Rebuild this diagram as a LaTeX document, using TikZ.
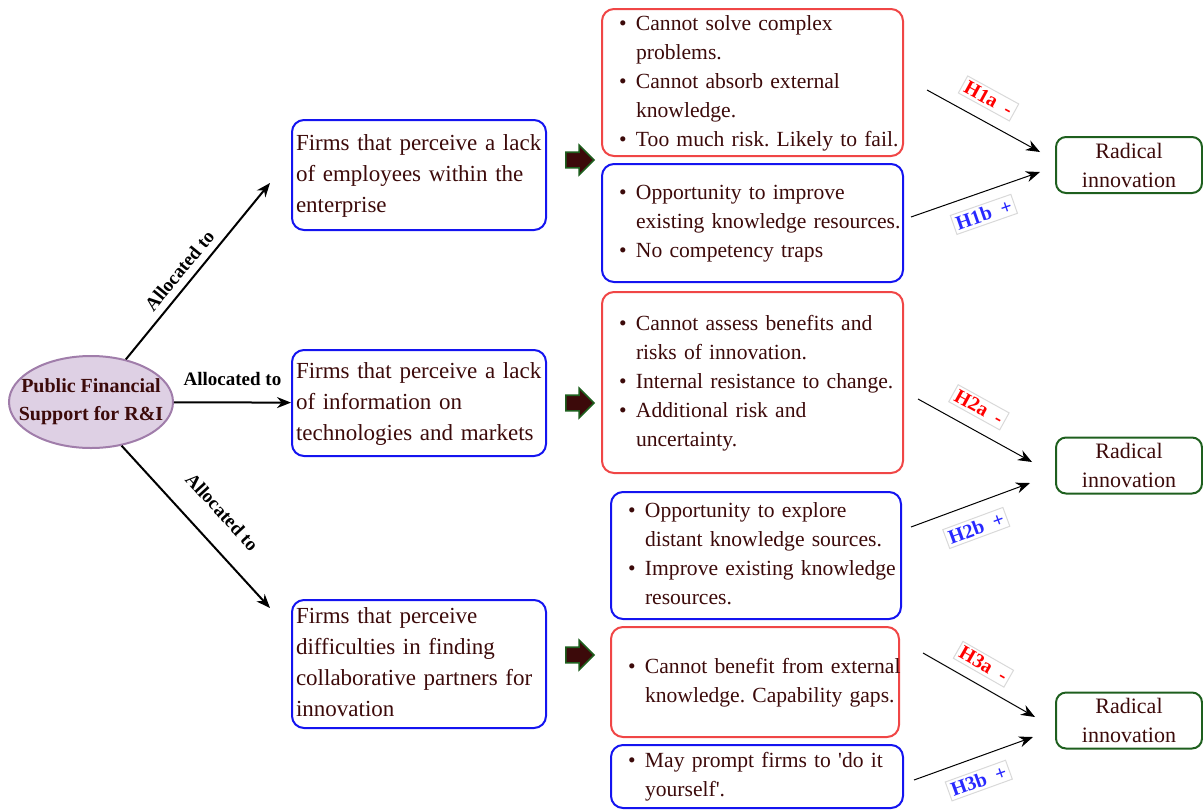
\documentclass[tikz,border=0pt]{standalone}
\usepackage{fontspec}
\setmainfont{Liberation Serif}
\usepackage{tikz}
\usetikzlibrary{arrows.meta,shapes.geometric,shapes.arrows}
\frenchspacing
\definecolor{txtmaroon}{RGB}{60,10,10}
\definecolor{boxblue}{RGB}{20,20,240}
\definecolor{boxred}{RGB}{240,70,70}
\definecolor{boxgreen}{RGB}{30,95,30}
\definecolor{ellfill}{RGB}{222,208,228}
\definecolor{elldraw}{RGB}{160,125,170}
\definecolor{hred}{RGB}{255,0,0}
\definecolor{hblue}{RGB}{40,40,255}
\tikzset{
    firmbox/.style={draw=boxblue, line width=1pt, rounded corners=6pt, text=txtmaroon, align=left, text width=123pt, inner xsep=2pt, inner ysep=0pt, font=\fontsize{11.5}{15.5}\selectfont},
    listbox/.style={line width=1pt, rounded corners=6pt, text=txtmaroon, align=left, inner xsep=8.5pt, inner ysep=0pt, font=\fontsize{10.8}{14.5}\selectfont},
    riskbox/.style={listbox, draw=boxred},
    chancebox/.style={listbox, draw=boxblue},
    radbox/.style={draw=boxgreen, line width=1pt, rounded corners=5pt, text=txtmaroon, align=center, minimum width=73pt, minimum height=28pt, inner sep=0pt, font=\fontsize{11}{14.5}\selectfont},
    fatarrow/.style={single arrow, draw=boxgreen, fill=txtmaroon, line width=0.8pt, minimum height=14pt, inner sep=3.5pt, single arrow head extend=3.5pt},
    allocarrow/.style={-{Stealth[length=7pt,width=5.5pt]}, line width=1pt},
    alloclabel/.style={font=\bfseries\fontsize{9.5}{11}\selectfont, inner sep=1pt},
    harrow/.style={-{Stealth[length=7pt,width=5.5pt]}, line width=0.5pt},
    hlabel/.style={draw=gray!30, fill=white, font=\bfseries\fontsize{10}{11}\selectfont, inner sep=1.5pt, sloped}
}
\begin{document}
\begin{tikzpicture}[x=0.5pt, y=-0.5pt]
    \useasboundingbox (0,0) rectangle (1203,809);
    \node[ellipse, draw=elldraw, fill=ellfill, line width=1pt, minimum width=82pt, minimum height=46pt, inner xsep=-8pt, inner ysep=2pt, align=center, text=txtmaroon, font=\bfseries\fontsize{10}{14}\selectfont] (pf) at (91,402) {Public Financial\\Support for R\&I};
    \node[firmbox, minimum height=55pt] (f1) at (419,175) {\begin{tabular}{@{}l@{}}Firms that perceive a lack\\of employees within the\\enterprise\end{tabular}};
    \node[firmbox, minimum height=53pt] (f2) at (419,403) {\begin{tabular}{@{}l@{}}Firms that perceive a lack\\of information on\\technologies and markets\end{tabular}};
    \node[firmbox, minimum height=64pt] (f3) at (419,664) {\begin{tabular}{@{}l@{}}Firms that perceive\\difficulties in finding\\collaborative partners for\\innovation\end{tabular}};
    \coordinate (a1) at (270,183);
    \coordinate (a3) at (270,608);
    \draw[allocarrow] (pf) -- node[alloclabel, sloped, above=2.5pt, pos=0.45] {Allocated to} (a1);
    \draw[allocarrow] (pf) -- node[alloclabel, above=7pt] {Allocated to} (f2);
    \draw[allocarrow] (pf.-55) -- node[alloclabel, sloped, above=10pt, pos=0.53] {Allocated to} (a3);
    \node[fatarrow] (ar1) at (576,160) {};
    \node[fatarrow] (ar2) at (576,403) {};
    \node[fatarrow] (ar3) at (576,655) {};
    \node[riskbox, text width=133.5pt, minimum height=73.5pt] (r1) at (752.5,82.5) {\begin{tabular}{@{}p{8.5pt}@{}l@{}}
        \textbullet & Cannot solve complex\\
         & problems.\\
        \textbullet & Cannot absorb external\\
         & knowledge.\\
        \textbullet & Too much risk. Likely to fail.
    \end{tabular}};
    \node[chancebox, text width=133.5pt, minimum height=59pt] (c1) at (752.5,223) {\begin{tabular}{@{}p{8.5pt}@{}l@{}}
        \textbullet & Opportunity to improve\\
         & existing knowledge resources.\\
        \textbullet & No competency traps
    \end{tabular}};
    \node[riskbox, text width=133.5pt, minimum height=90.5pt] (r2) at (752.5,382.5) {\begin{tabular}{@{}p{8.5pt}@{}l@{}}
        \textbullet & Cannot assess benefits and\\
         & risks of innovation.\\
        \textbullet & Internal resistance to change.\\
        \textbullet & Additional risk and\\
         & uncertainty.
    \end{tabular}};
    \node[chancebox, text width=128pt, minimum height=63.5pt] (c2) at (756,555.5) {\begin{tabular}{@{}p{8.5pt}@{}l@{}}
        \textbullet & Opportunity to explore\\
         & distant knowledge sources.\\
        \textbullet & Improve existing knowledge\\
         & resources.
    \end{tabular}};
    \node[riskbox, text width=127pt, minimum height=55pt] (r3) at (755,682) {\begin{tabular}{@{}p{8.5pt}@{}l@{}}
        \textbullet & Cannot benefit from external\\
         & knowledge. Capability gaps.
    \end{tabular}};
    \node[chancebox, text width=129pt, minimum height=31.5pt] (c3) at (757,776.5) {\begin{tabular}{@{}p{8.5pt}@{}l@{}}
        \textbullet & May prompt firms to \textquotesingle do it\\
         & yourself\textquotesingle.
    \end{tabular}};
    \node[radbox] (rad1) at (1129,165) {Radical\\innovation};
    \node[radbox] (rad2) at (1129,465.5) {Radical\\innovation};
    \node[radbox] (rad3) at (1129,720.5) {Radical\\innovation};
    \coordinate (h1a) at (927,90);
    \coordinate (h1a-end) at (1040,152);
    \coordinate (h1b) at (911,217);
    \coordinate (h1b-end) at (1040,172);
    \coordinate (h2a) at (918,399);
    \coordinate (h2a-end) at (1032,462);
    \coordinate (h2b) at (911,527);
    \coordinate (h2b-end) at (1030,483);
    \coordinate (h3a) at (923,653);
    \coordinate (h3a-end) at (1035,717);
    \coordinate (h3b) at (914,780);
    \coordinate (h3b-end) at (1033,737);
    \draw[harrow] (h1a) -- node[hlabel, above=6pt, pos=0.45, text=hred] {H1a\enspace-} (h1a-end);
    \draw[harrow] (h1b) -- node[hlabel, below=5.5pt, pos=0.51, text=hblue] {H1b\enspace+} (h1b-end);
    \draw[harrow] (h2a) -- node[hlabel, above=6pt, pos=0.44, text=hred] {H2a\enspace-} (h2a-end);
    \draw[harrow] (h2b) -- node[hlabel, below=6.5pt, pos=0.48, text=hblue] {H2b\enspace+} (h2b-end);
    \draw[harrow] (h3a) -- node[hlabel, above=5pt, pos=0.45, text=hred] {H3a\enspace-} (h3a-end);
    \draw[harrow] (h3b) -- node[hlabel, below=6pt, pos=0.48, text=hblue] {H3b\enspace+} (h3b-end);
\end{tikzpicture}
\end{document}
